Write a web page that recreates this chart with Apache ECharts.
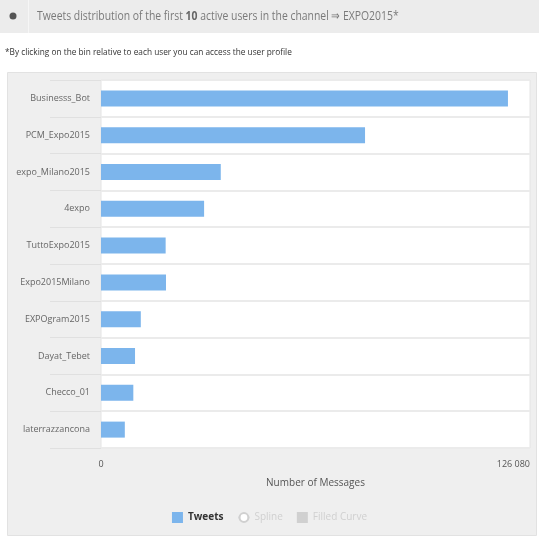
<!DOCTYPE html>
<html>
<head>
<meta charset="utf-8">
<script src="https://cdn.jsdelivr.net/npm/echarts@6/dist/echarts.min.js"></script>
<style>
  html, body { margin: 0; padding: 0; background: #fff; }
  #source { width: 539px; height: 538px; }
</style>
</head>
<body>
<div id="source"></div>
<script>
var users = ['Businesss_Bot', 'PCM_Expo2015', 'expo_Milano2015', '4expo', 'TuttoExpo2015',
  'Expo2015Milano', 'EXPOgram2015', 'Dayat_Tebet', 'Checco_01', 'laterrazzancona'];
var tweets = [119600, 77600, 35200, 30300, 19000, 19100, 11700, 10000, 9500, 7000];
var axisMax = 126080;
var seriesNames = ['Tweets', 'Spline', 'Filled Curve'];

var font = '"Open Sans", "Liberation Sans", sans-serif';

var dom = document.getElementById('source');
var myChart = echarts.init(dom, null, { renderer: 'canvas' });

var option = {
  animation: false,
  graphic: [
    { type: 'rect', z: -10, shape: { x: 0, y: 0, width: 539, height: 33 }, style: { fill: '#ececec' } },
    { type: 'line', z: -9, shape: { x1: 28.5, y1: 0, x2: 28.5, y2: 33 }, style: { stroke: '#f6f6f6', lineWidth: 1 } },
    { type: 'circle', z: -9, shape: { cx: 13, cy: 16, r: 3.5 }, style: { fill: '#555' } },
    { type: 'rect', z: -10, shape: { x: 7.5, y: 72.5, width: 529, height: 463 }, style: { fill: '#efefef', stroke: '#e2e2e2' } },
    {
      type: 'text', x: 37, y: 16, scaleX: 0.8, z: 5,
      style: {
        text: 'Tweets distribution of the first {b|10} active users in the channel \u21D2 EXPO2015*',
        font: 'normal 13px ' + font, fill: '#7a7a7a', verticalAlign: 'middle',
        rich: { b: { fontWeight: 'bold', fontSize: 13, fontFamily: font, fill: '#666' } }
      }
    },
    {
      type: 'text', x: 5, y: 52, scaleX: 0.92, z: 5,
      style: {
        text: '*By clicking on the bin relative to each user you can access the user profile',
        font: 'normal 9px ' + font, fill: '#333', verticalAlign: 'middle'
      }
    }
  ],
  grid: {
    left: 101, right: 9, top: 80, bottom: 90,
    show: true, backgroundColor: '#fff', borderColor: '#e4e4e4', borderWidth: 1
  },
  legend: {
    data: [
      { name: 'Tweets', icon: 'rect', textStyle: { fontWeight: 'bold', color: '#333' } },
      { name: 'Spline' },
      { name: 'Filled Curve', icon: 'rect' }
    ],
    selected: { 'Spline': false, 'Filled Curve': false },
    left: 'center', top: 507,
    itemWidth: 11, itemHeight: 11, itemGap: 14,
    inactiveColor: '#d0d0d0',
    textStyle: { fontFamily: font, fontSize: 10, color: '#333' }
  },
  xAxis: {
    type: 'value',
    min: 0, max: axisMax, interval: axisMax,
    name: 'Number of Messages', nameLocation: 'middle', nameGap: 30,
    nameTextStyle: { fontFamily: font, fontSize: 10, color: '#555' },
    axisLine: { show: false },
    axisTick: { show: false },
    splitLine: { show: false },
    axisLabel: {
      fontFamily: font, fontSize: 9, color: '#555', margin: 12,
      alignMaxLabel: 'right',
      formatter: function (v) { return String(v).replace(/\B(?=(\d{3})+(?!\d))/g, ' '); }
    }
  },
  yAxis: {
    type: 'category',
    data: users,
    inverse: true,
    axisLine: { show: false },
    axisTick: { show: true, length: 51, lineStyle: { color: '#e0e0e0' } },
    splitLine: { show: true, lineStyle: { color: '#ebebeb', width: 2 } },
    axisLabel: { fontFamily: font, fontSize: 9, color: '#666', margin: 11 }
  },
  series: [
    {
      name: seriesNames[0], type: 'bar', data: tweets, barWidth: 16,
      itemStyle: { color: '#7cb5ec' }
    },
    {
      name: seriesNames[1], type: 'line', smooth: true, data: tweets,
      itemStyle: { color: '#aaa' }
    },
    {
      name: seriesNames[2], type: 'line', smooth: true, data: tweets,
      areaStyle: {}, itemStyle: { color: '#aaa' }
    }
  ]
};

if (option && typeof option === 'object') {
  myChart.setOption(option);
}

window.addEventListener('resize', myChart.resize);
</script>
</body>
</html>
